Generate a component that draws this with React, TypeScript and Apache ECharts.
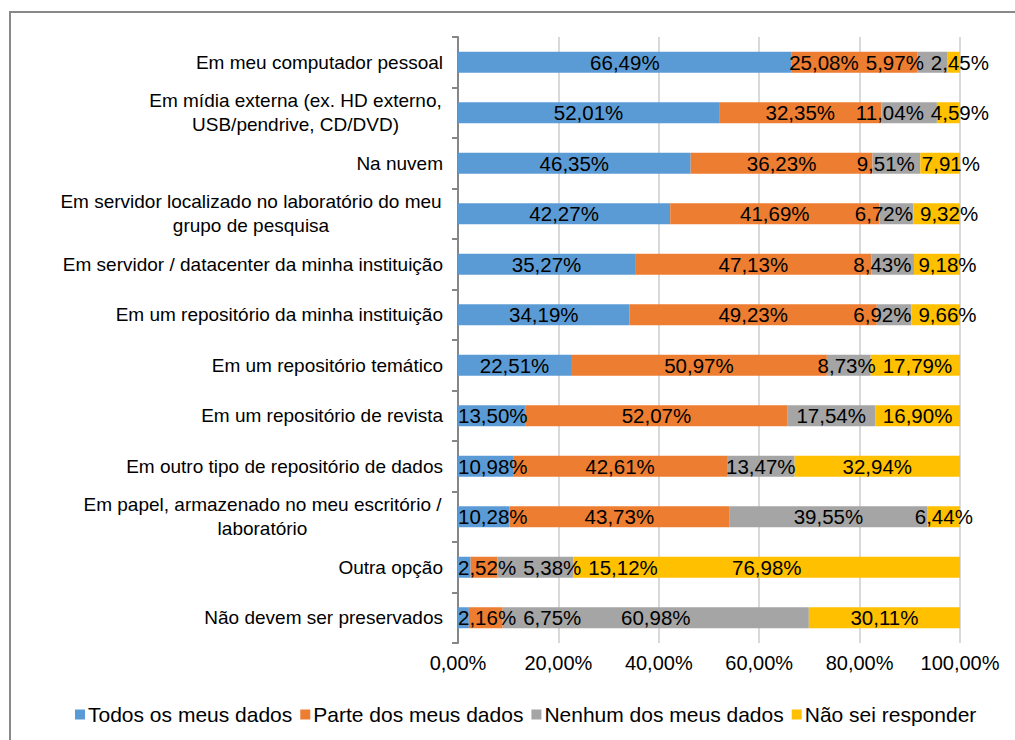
import React, { useEffect, useRef } from "react";
import * as echarts from "echarts";

const categories = [
  "Em meu computador pessoal",
  "Em mídia externa (ex. HD externo,\nUSB/pendrive, CD/DVD)",
  "Na nuvem",
  "Em servidor localizado no laboratório do meu\ngrupo de pesquisa",
  "Em servidor / datacenter da minha instituição",
  "Em um repositório da minha instituição",
  "Em um repositório temático",
  "Em um repositório de revista",
  "Em outro tipo de repositório de dados",
  "Em papel, armazenado no meu escritório /\nlaboratório",
  "Outra opção",
  "Não devem ser preservados",
];

const seriesNames = [
  "Todos os meus dados",
  "Parte dos meus dados",
  "Nenhum dos meus dados",
  "Não sei responder",
];

const todos = [66.49, 52.01, 46.35, 42.27, 35.27, 34.19, 22.51, 13.5, 10.98, 10.28, 2.52, 2.16];
const parte = [25.08, 32.35, 36.23, 41.69, 47.13, 49.23, 50.97, 52.07, 42.61, 43.73, 5.38, 6.75];
const nenhum = [5.97, 11.04, 9.51, 6.72, 8.43, 6.92, 8.73, 17.54, 13.47, 39.55, 15.12, 60.98];
const naoSei = [2.45, 4.59, 7.91, 9.32, 9.18, 9.66, 17.79, 16.9, 32.94, 6.44, 76.98, 30.11];

const xTicks = [0, 20, 40, 60, 80, 100];

const colors = ["#5B9BD5", "#ED7D31", "#A5A5A5", "#FFC000"];
const FONT = '"Liberation Sans", Arial, sans-serif';
const FS_CAT = 19;
const FS_AXIS = 20;
const FS_LABEL = 20.5;
const FS_LEGEND = 21;

const GRID_LEFT = 458;
const GRID_RIGHT = 55;
const CHART_W = 1015;

const fmt = (v: number) => v.toFixed(2).replace(".", ",") + "%";

// Shift labels within each row so that they do not overlap (like the spreadsheet does)
function computeOffsets(seriesData: number[][], measure: (s: string) => number): number[][] {
  const plotW = CHART_W - GRID_LEFT - GRID_RIGHT;
  const pxPer = plotW / 100;
  const gap = 7;
  const lo = 0;
  const hi = plotW + 29;
  const out = seriesData.map((s) => s.map(() => 0));
  const rows = seriesData[0].length;
  for (let r = 0; r < rows; r++) {
    let cum = 0;
    const centers: number[] = [];
    const widths: number[] = [];
    for (let s = 0; s < seriesData.length; s++) {
      const v = seriesData[s][r];
      centers.push((cum + v / 2) * pxPer);
      widths.push(measure(fmt(v)));
      cum += v;
    }
    type Block = { items: number[]; width: number; sum: number; count: number; left: number };
    const blocks: Block[] = [];
    for (let i = 0; i < centers.length; i++) {
      const d = centers[i] - widths[i] / 2;
      blocks.push({ items: [i], width: widths[i], sum: d, count: 1, left: d });
      while (blocks.length > 1) {
        const prev = blocks[blocks.length - 2];
        const cur = blocks[blocks.length - 1];
        if (prev.left + prev.width + gap > cur.left) {
          const shift = prev.width + gap;
          const sum = prev.sum + (cur.sum - cur.count * shift);
          const count = prev.count + cur.count;
          const merged: Block = {
            items: prev.items.concat(cur.items),
            width: prev.width + gap + cur.width,
            sum,
            count,
            left: sum / count,
          };
          blocks.pop();
          blocks.pop();
          blocks.push(merged);
        } else break;
      }
    }
    const lefts: number[] = [];
    for (const b of blocks) {
      let x = b.left;
      for (const it of b.items) {
        lefts[it] = x;
        x += widths[it] + gap;
      }
    }
    for (let i = 0; i < lefts.length; i++) {
      const minL = i === 0 ? lo : lefts[i - 1] + widths[i - 1] + gap;
      if (lefts[i] < minL) lefts[i] = minL;
    }
    for (let i = lefts.length - 1; i >= 0; i--) {
      const maxR = i === lefts.length - 1 ? hi : lefts[i + 1] - gap;
      if (lefts[i] + widths[i] > maxR) lefts[i] = maxR - widths[i];
    }
    for (let i = 0; i < lefts.length; i++) {
      out[i][r] = lefts[i] + widths[i] / 2 - centers[i];
    }
  }
  return out;
}

export default function App() {
  const ref = useRef<HTMLDivElement>(null);
  useEffect(() => {
    if (!ref.current) return;
    const chart = echarts.init(ref.current, undefined, { renderer: "svg" });

    const ctx = document.createElement("canvas").getContext("2d")!;
    ctx.font = `${FS_CAT}px "Liberation Sans"`;
    const rich: Record<string, any> = {};
    categories.forEach((c, i) => {
      if (c.includes("\n")) {
        const w = Math.max(...c.split("\n").map((l) => ctx.measureText(l).width));
        rich["c" + i] = {
          width: Math.ceil(w) + 2,
          align: "center",
          fontSize: FS_CAT,
          fontFamily: FONT,
          color: "#000",
          lineHeight: 24,
        };
      }
    });

    const seriesData = [todos, parte, nenhum, naoSei];
    const lctx = document.createElement("canvas").getContext("2d")!;
    lctx.font = `${FS_LABEL}px "Liberation Sans"`;
    const offsets = computeOffsets(seriesData, (s) => lctx.measureText(s).width);

    chart.setOption({
      animation: false,
      color: colors,
      textStyle: { fontFamily: FONT },
      graphic: [
        {
          type: "rect",
          shape: { x: 10, y: 12, width: 1100, height: 800 },
          style: { fill: "none", stroke: "#898989", lineWidth: 2 },
          silent: true,
        },
      ],
      grid: { left: GRID_LEFT, right: GRID_RIGHT, top: 37, bottom: 97, containLabel: false },
      legend: {
        bottom: 10,
        left: 70,
        itemWidth: 10,
        itemHeight: 10,
        itemGap: 8,
        icon: "rect",
        textStyle: { fontSize: FS_LEGEND, fontFamily: FONT, color: "#000", padding: [0, 0, 0, -2] },
        data: seriesNames,
      },
      xAxis: {
        type: "value",
        min: 0,
        max: 100,
        interval: 20,
        axisLine: { show: false },
        axisTick: { show: false },
        splitLine: { show: true, lineStyle: { color: "#D9D9D9", width: 2 } },
        axisLabel: {
          fontSize: FS_AXIS,
          fontFamily: FONT,
          color: "#000",
          margin: 10,
          formatter: (v: number) => (xTicks.includes(v) ? fmt(v) : ""),
        },
      },
      yAxis: {
        type: "category",
        inverse: true,
        data: categories,
        axisLine: { show: true, lineStyle: { color: "#868686", width: 2 } },
        axisTick: { show: true, length: 6, lineStyle: { color: "#868686", width: 2 } },
        axisLabel: {
          fontSize: FS_CAT,
          fontFamily: FONT,
          color: "#000",
          margin: 15,
          lineHeight: 24,
          rich,
          formatter: (value: string, index: number) => {
            if (value.includes("\n")) {
              return value
                .split("\n")
                .map((l) => `{c${index}|${l}}`)
                .join("\n");
            }
            return value;
          },
        },
      },
      series: seriesNames.map((name, si) => ({
        name,
        type: "bar",
        stack: "total",
        barWidth: 21,
        data: seriesData[si].map((v, r) => ({
          value: v,
          label: { offset: [offsets[si][r], 0] },
        })),
        itemStyle: { color: colors[si] },
        label: {
          show: true,
          position: "inside",
          color: "#000",
          fontSize: FS_LABEL,
          fontFamily: FONT,
          formatter: (p: any) => fmt(p.value),
        },
      })),
    });

    return () => chart.dispose();
  }, []);

  return (
    <div
      ref={ref}
      style={{ position: "fixed", left: 0, top: 0, width: CHART_W, height: 740, background: "#fff" }}
    />
  );
}
